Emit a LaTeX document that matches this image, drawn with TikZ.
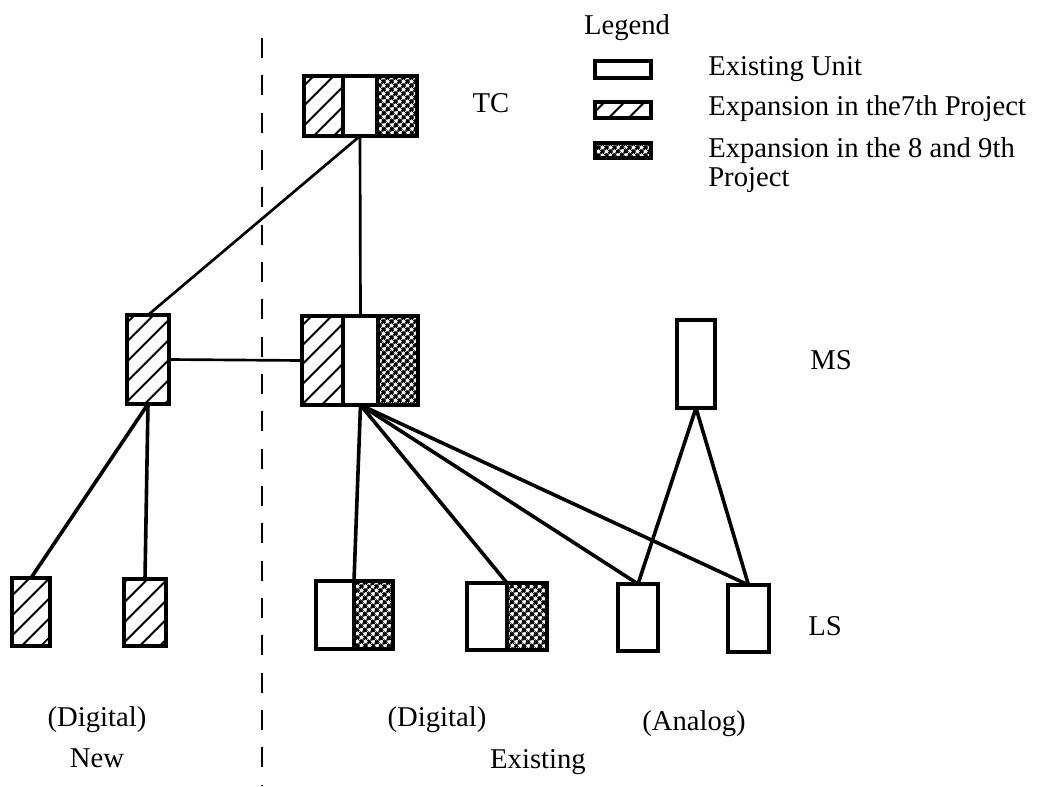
\documentclass[tikz,border=0pt]{standalone}
\usepackage{fontspec}
\setmainfont{Liberation Serif}
\usetikzlibrary{patterns.meta,fit}

\begin{document}
\begin{tikzpicture}[x=0.75pt,y=-0.75pt,
  font=\fontsize{21.5}{25}\selectfont,
  unit/.style={draw, line width=2.5pt, inner sep=0pt, outer sep=0pt},
  plain/.style={unit, fill=white},
  hatched/.style={unit, pattern={Lines[angle=45,distance=10.5pt,line width=1.6pt]}},
  crossed/.style={unit, pattern={Hatch[angle=45,distance=4pt,line width=1.8pt]}},
  link/.style={line width=2pt},
  heavylink/.style={line width=2.7pt},
  lbl/.style={inner sep=0pt}
]
\useasboundingbox (0,0) rectangle (1043,786);

% divider between new and existing plant
\coordinate (divtop) at (262,38);
\coordinate (divbot) at (262,786);
\draw[line width=2.2pt, dash pattern=on 15pt off 13pt] (divtop) -- (divbot);

% TC
\node[hatched, fit={(304,76) (343,136)}] (tcA) {};
\node[plain,   fit={(343,76) (377,136)}] (tcB) {};
\node[crossed, fit={(377,76) (417,136)}] (tcC) {};
\node[lbl] (tcl) at (491,103) {TC};

% MS level
\node[hatched, fit={(127,315) (169,404)}] (msN) {};
\node[hatched, fit={(302,316) (343,405)}] (msA) {};
\node[plain,   fit={(343,316) (378,405)}] (msB) {};
\node[crossed, fit={(378,316) (418,405)}] (msC) {};
\node[plain,   fit={(677,320) (715,408)}] (msX) {};
\node[lbl] (msl) at (831,360) {MS};

% LS level
\node[hatched, fit={(12,578) (50,646)}] (lsN1) {};
\node[hatched, fit={(124,579) (166,646)}] (lsN2) {};
\node[plain,   fit={(316,581) (354,649)}] (lsD1w) {};
\node[crossed, fit={(354,581) (393,649)}] (lsD1c) {};
\node[plain,   fit={(467,583) (507,650)}] (lsD2w) {};
\node[crossed, fit={(507,583) (547,650)}] (lsD2c) {};
\node[plain,   fit={(618,584) (658,651)}] (lsA1) {};
\node[plain,   fit={(728,585) (769,652)}] (lsA2) {};
\node[lbl] (lsl) at (825,626) {LS};

% links
\draw[link] (tcB.south) -- (msN.north);
\draw[link] (tcB.south) -- (msB.north);
\draw[link] (msN.east) -- (msA.west);
\draw[heavylink] (msN.south) -- (lsN1.north);
\draw[heavylink] (msN.south) -- (lsN2.north);
\draw[heavylink] (msB.south) -- (lsD1w.north east);
\draw[heavylink] (msB.south) -- (lsD2w.north east);
\draw[heavylink] (msB.south) -- (lsA1.north);
\draw[heavylink] (msB.south) -- (lsA2.north);
\draw[heavylink] (msX.south) -- (lsA1.north);
\draw[heavylink] (msX.south) -- (lsA2.north);

% group captions
\node[lbl] (cNewD) at (97,720) {(Digital)};
\node[lbl] (cNew)  at (97,758) {New};
\node[lbl] (cExD)  at (437,720) {(Digital)};
\node[lbl] (cEx)   at (538,762) {Existing};
\node[lbl] (cExA)  at (694,724) {(Analog)};

% legend
\node[lbl] (lg) at (627,28) {Legend};
\node[plain,   fit={(595,61) (651,78)}] (lg1) {};
\node[hatched, fit={(595,102) (651,118)}] (lg2) {};
\node[crossed, fit={(595,143) (651,158)}] (lg3) {};
\node[lbl, anchor=west] (lt1) at (708,69) {Existing Unit};
\node[lbl, anchor=west] (lt2) at (708,109) {Expansion in the7th Project};
\node[lbl, anchor=west] (lt3) at (708,151) {Expansion in the 8 and 9th};
\node[lbl, anchor=west] (lt4) at (708,180) {Project};
\end{tikzpicture}
\end{document}
